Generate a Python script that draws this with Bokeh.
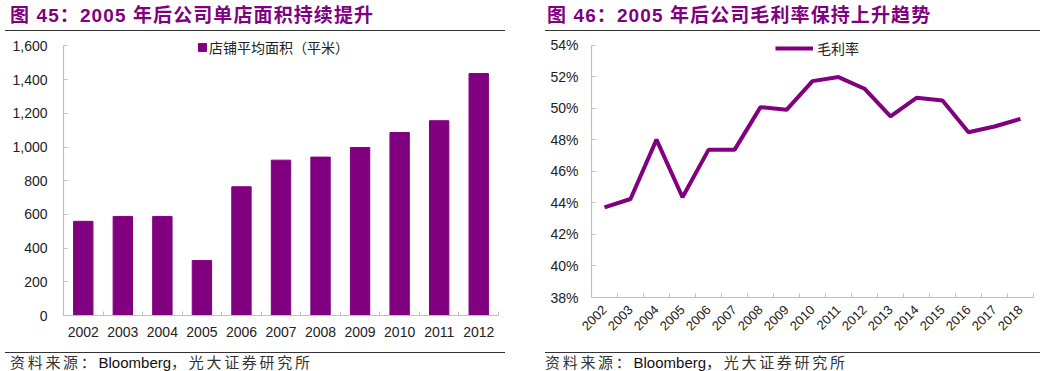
import math
from bokeh.plotting import figure
from bokeh.models import (Div, FixedTicker, Legend, LegendItem, PrintfTickFormatter,
                          NumeralTickFormatter, Range1d)
from bokeh.layouts import column, row
from bokeh.embed import file_html
from bokeh.resources import INLINE

# ---------------- data ----------------
title_left = "图 45：2005 年后公司单店面积持续提升"
title_right = "图 46：2005 年后公司毛利率保持上升趋势"
source_cn_1 = "资料来源："
source_en = "Bloomberg"
source_cn_2 = "，光大证券研究所"

area_years = ["2002", "2003", "2004", "2005", "2006", "2007", "2008", "2009", "2010", "2011", "2012"]
store_area = [559, 588, 588, 326, 764, 922, 940, 997, 1086, 1156, 1436]
area_label = "店铺平均面积（平米）"
area_ticks = [0, 200, 400, 600, 800, 1000, 1200, 1400, 1600]

margin_years = ["2002", "2003", "2004", "2005", "2006", "2007", "2008", "2009", "2010",
                "2011", "2012", "2013", "2014", "2015", "2016", "2017", "2018"]
gross_margin = [43.72, 44.25, 48.02, 44.36, 47.37, 47.37, 50.08, 49.91, 51.73,
                51.99, 51.25, 49.49, 50.67, 50.50, 48.49, 48.85, 49.34]
margin_label = "毛利率"
margin_ticks = [38, 40, 42, 44, 46, 48, 50, 52, 54]

PURPLE = "#800080"
AXIS = "#BFBFBF"
TXT = "#222222"
CJK = "Noto Sans CJK SC"
LAT = "Liberation Sans"


def title_div(text, width, pad):
    html = (f'<div style="font-family:\'Liberation Sans\',\'Noto Sans CJK SC\',sans-serif;'
            f'font-weight:bold;font-size:19px;letter-spacing:1.1px;color:{PURPLE};white-space:nowrap;'
            f'line-height:22px;padding-left:{pad}px;">{text}</div>')
    return Div(text=html, width=width, height=26,
               styles={"border-bottom": "1.5px solid #333333", "box-sizing": "border-box"})


def source_div(width, pad):
    cn = "font-family:'Noto Sans CJK SC',sans-serif;letter-spacing:2.7px;color:#333333;"
    en = "font-family:'Liberation Sans',sans-serif;letter-spacing:0px;color:#111111;"
    html = (f'<div style="font-size:15px;white-space:nowrap;line-height:17px;padding-left:{pad}px;">'
            f'<span style="{cn}">{source_cn_1}</span><span style="{en}">{source_en}</span>'
            f'<span style="{cn}">{source_cn_2}</span></div>')
    return Div(text=html, width=width, height=18,
               styles={"border-top": "1.5px solid #333333", "box-sizing": "border-box"})


def style_axes(p):
    p.outline_line_color = None
    p.xgrid.grid_line_color = None
    p.ygrid.grid_line_color = None
    for ax in (p.xaxis[0], p.yaxis[0]):
        ax.axis_line_color = AXIS
        ax.axis_line_width = 1.2
        ax.major_label_text_color = TXT
        ax.major_label_text_font = LAT
    p.yaxis[0].major_tick_in = 4
    p.yaxis[0].major_tick_out = 0
    p.yaxis[0].major_tick_line_color = AXIS
    p.yaxis[0].minor_tick_line_color = None
    p.xaxis[0].major_tick_line_color = None
    p.xaxis[0].minor_tick_in = 4
    p.xaxis[0].minor_tick_out = 0
    p.xaxis[0].minor_tick_line_color = AXIS


# ---------------- left chart ----------------
n1 = len(area_years)
x1 = [i + 0.5 for i in range(n1)]
p1 = figure(width=540, height=311, title=None, x_range=Range1d(0, n1), y_range=Range1d(0, 1650),
            output_backend="svg", toolbar_location=None,
            min_border_left=63, min_border_right=42, min_border_top=1, min_border_bottom=32)
bars = p1.vbar(x=x1, top=store_area, width=0.49, fill_color=PURPLE, line_color=PURPLE)
style_axes(p1)
p1.yaxis[0].bounds = (0, 1600)
p1.xaxis[0].ticker = FixedTicker(ticks=x1, minor_ticks=list(range(1, n1 + 1)))
p1.xaxis[0].major_label_overrides = {x: y for x, y in zip(x1, area_years)}
p1.xaxis[0].major_label_text_font_size = "14px"
p1.xaxis[0].major_label_standoff = 5
p1.yaxis[0].ticker = FixedTicker(ticks=area_ticks)
p1.yaxis[0].formatter = NumeralTickFormatter(format="0,0")
p1.yaxis[0].major_label_text_font_size = "14px"
p1.yaxis[0].major_label_standoff = 16

leg1 = Legend(items=[LegendItem(label=area_label, renderers=[bars])], location=(134, 258),
              glyph_width=10, glyph_height=10, label_standoff=2, padding=0, margin=0,
              spacing=0, label_height=16, label_text_font=CJK, label_text_font_size="14px",
              label_text_color=TXT, border_line_color=None, background_fill_alpha=0)
p1.add_layout(leg1)

# ---------------- right chart ----------------
n2 = len(margin_years)
x2 = [i + 0.5 for i in range(n2)]
p2 = figure(width=507, height=311, title=None, x_range=Range1d(0, n2), y_range=Range1d(38, 54.5),
            output_backend="svg", toolbar_location=None,
            min_border_left=51, min_border_right=14, min_border_top=1, min_border_bottom=50)
ln = p2.line(x=x2, y=gross_margin, line_color=PURPLE, line_width=4)
style_axes(p2)
p2.yaxis[0].bounds = (38, 54)
p2.xaxis[0].ticker = FixedTicker(ticks=x2, minor_ticks=list(range(1, n2 + 1)))
p2.xaxis[0].major_label_overrides = {x: y for x, y in zip(x2, margin_years)}
p2.xaxis[0].major_label_text_font_size = "13px"
p2.xaxis[0].major_label_orientation = math.pi / 4
p2.xaxis[0].major_label_standoff = 4
p2.yaxis[0].ticker = FixedTicker(ticks=margin_ticks)
p2.yaxis[0].formatter = PrintfTickFormatter(format="%d%%")
p2.yaxis[0].major_label_text_font_size = "14px"
p2.yaxis[0].major_label_standoff = 13

leg2 = Legend(items=[LegendItem(label=margin_label, renderers=[ln])], location=(184, 239),
              glyph_width=38, glyph_height=10, label_standoff=4, padding=0, margin=0,
              spacing=0, label_height=16, label_text_font=CJK, label_text_font_size="14px",
              label_text_color=TXT, border_line_color=None, background_fill_alpha=0)
p2.add_layout(leg2)

left = column(title_div(title_left, 500, 5), p1, source_div(500, 5))
right = column(title_div(title_right, 495, 2), p2, source_div(495, 0))
layout = row(left, right)

open("out.html", "w").write(file_html(layout, INLINE))
